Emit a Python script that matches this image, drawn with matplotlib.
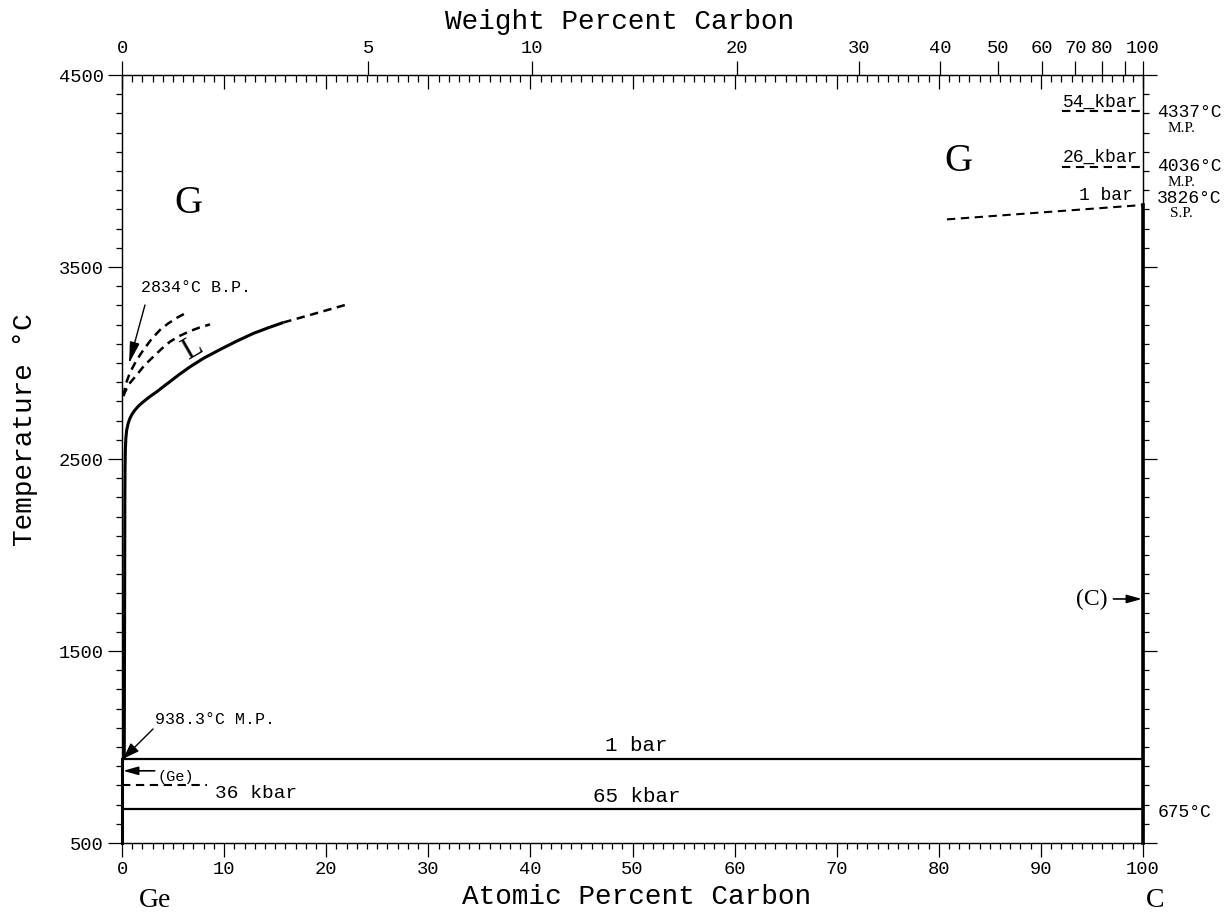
import matplotlib
matplotlib.use("Agg")
import matplotlib.pyplot as plt
import numpy as np

plt.rcParams["lines.scale_dashes"] = False
MONO = "Liberation Mono"
SERIF = "Liberation Serif"

# atomic masses used for the weight-percent axis
M_GE = 72.63
M_C = 12.011

# liquidus at 1 bar (atomic % C, degC)
liq_x = [0.22, 0.25, 0.28, 0.30, 0.33, 0.38, 0.46, 0.60, 0.78, 1.00, 1.27, 1.65, 2.09,
         2.70, 3.40, 4.00, 4.70, 5.60, 6.66, 8.00, 9.60, 11.20, 12.86, 14.30, 15.80]
liq_t = [938, 1600, 2300, 2460, 2550, 2610, 2651, 2685, 2712, 2735, 2755, 2778, 2798,
         2824, 2850, 2875, 2903, 2940, 2980, 3025, 3070, 3113, 3154, 3183, 3211]
liq_ext_x = [15.80, 18.74, 21.84]
liq_ext_t = [3211, 3255, 3302]

# dashed curves from the Ge boiling point
bp_up_x = [0.13, 0.40, 0.78, 1.40, 2.09, 2.90, 3.72, 4.50, 5.36, 6.49]
bp_up_t = [2828, 2895, 2950, 3012, 3068, 3125, 3172, 3205, 3235, 3267]
bp_lo_x = [0.13, 0.60, 1.44, 2.20, 3.07, 3.90, 4.70, 5.60, 6.66, 7.60, 8.62]
bp_lo_t = [2828, 2885, 2938, 2988, 3033, 3075, 3111, 3140, 3166, 3185, 3201]

# invariant / reference temperatures
t_ge_mp = 938.3
t_eut_65 = 675
t_36kbar = 800
x_36kbar_end = 8.3
t_54kbar = 4315
t_26kbar = 4022
x_c_hp_start = 92.1
sp_x = [80.8, 100]
sp_t = [3748, 3823]
t_c_arrow = 1771
t_ge_arrow = 876

wt_ticks = [0, 5, 10, 20, 30, 40, 50, 60, 70, 80, 90, 100]
wt_labels = ["0", "5", "10", "20", "30", "40", "50", "60", "70", "80", "", "100"]


def wt_to_at(w):
    w = np.asarray(w, dtype=float)
    nc = w / M_C
    ng = (100 - w) / M_GE
    return 100 * nc / (nc + ng)


fig = plt.figure(figsize=(12.24, 9.13), dpi=100)
ax = fig.add_axes([122 / 1224, 70 / 913, 1021 / 1224, 768 / 913])
ax.set_xlim(0, 100)
ax.set_ylim(500, 4500)

# phase boundaries
ax.plot(liq_x, liq_t, color="black", lw=2.2, solid_capstyle="butt", solid_joinstyle="round")
ax.plot(liq_ext_x, liq_ext_t, color="black", lw=1.8, dashes=(6, 4))
ax.plot(bp_up_x, bp_up_t, color="black", lw=1.8, dashes=(6, 4))
ax.plot(bp_lo_x, bp_lo_t, color="black", lw=1.8, dashes=(6, 4))
ax.plot([0, 100], [t_ge_mp, t_ge_mp], color="black", lw=1.6)
ax.plot([0, 100], [t_eut_65, t_eut_65], color="black", lw=1.6)
ax.plot([0, x_36kbar_end], [t_36kbar, t_36kbar], color="black", lw=1.5, dashes=(6, 4))
ax.plot([x_c_hp_start, 100], [t_54kbar, t_54kbar], color="black", lw=1.5, dashes=(6, 4))
ax.plot([x_c_hp_start, 100], [t_26kbar, t_26kbar], color="black", lw=1.5, dashes=(6, 4))
ax.plot(sp_x, sp_t, color="black", lw=1.5, dashes=(6, 4))
ax.plot([100, 100], [500, sp_t[-1]], color="black", lw=2.6, clip_on=False)
ax.plot([0, 0], [500, t_ge_mp], color="black", lw=2.2, clip_on=False)

# arrows
ax.annotate("", xy=(0.1, t_ge_mp), xytext=(3.04, 1094),
            arrowprops=dict(arrowstyle="-|>,head_length=1.0,head_width=0.35",
                            color="black", lw=1.0, shrinkA=0, shrinkB=0))
ax.annotate("", xy=(0.69, 2998), xytext=(2.25, 3302),
            arrowprops=dict(arrowstyle="-|>,head_length=1.3,head_width=0.3",
                            color="black", lw=1.0, shrinkA=0, shrinkB=0))
ax.annotate("", xy=(0.1, t_ge_arrow), xytext=(3.2, t_ge_arrow),
            arrowprops=dict(arrowstyle="-|>,head_length=0.9,head_width=0.25",
                            color="black", lw=1.2, shrinkA=0, shrinkB=0))
ax.annotate("", xy=(99.9, t_c_arrow), xytext=(97.1, t_c_arrow),
            arrowprops=dict(arrowstyle="-|>,head_length=0.9,head_width=0.25",
                            color="black", lw=1.2, shrinkA=0, shrinkB=0))

# labels inside the diagram
ax.text(6.46, 3833, "G", family=SERIF, fontsize=28, ha="center", va="center")
ax.text(81.9, 4047, "G", family=SERIF, fontsize=28, ha="center", va="center")
ax.text(6.86, 3075, "L", family=SERIF, fontsize=22, ha="center", va="center", rotation=30)
ax.text(1.86, 3391, "2834°C B.P.", family=MONO, fontsize=12, ha="left", va="center")
ax.text(3.23, 1141, "938.3°C M.P.", family=MONO, fontsize=12, ha="left", va="center")
ax.text(3.5, 844, "(Ge)", family=MONO, fontsize=11, ha="left", va="center")
ax.text(9.1, 760, "36 kbar", family=MONO, fontsize=14, ha="left", va="center")
ax.text(50.4, 1010, "1 bar", family=MONO, fontsize=15, ha="center", va="center")
ax.text(50.4, 740, "65 kbar", family=MONO, fontsize=15, ha="center", va="center")
ax.text(95.0, t_c_arrow, "(C)", family=SERIF, fontsize=17, ha="center", va="center")
ax.text(99.5, 4359, "54_kbar", family=MONO, fontsize=13, ha="right", va="center")
ax.text(99.5, 4073, "26_kbar", family=MONO, fontsize=13, ha="right", va="center")
ax.text(99.0, 3875, "1 bar", family=MONO, fontsize=13, ha="right", va="center")
ax.text(101.4, 4305, "4337°C", family=MONO, fontsize=13, ha="left", va="center", clip_on=False)
ax.text(103.8, 4222, "M.P.", family=SERIF, fontsize=11, ha="center", va="center", clip_on=False)
ax.text(101.4, 4022, "4036°C", family=MONO, fontsize=13, ha="left", va="center", clip_on=False)
ax.text(103.8, 3942, "M.P.", family=SERIF, fontsize=11, ha="center", va="center", clip_on=False)
ax.text(101.4, 3858, "3826°C", family=MONO, fontsize=13, ha="left", va="center", clip_on=False)
ax.text(103.8, 3780, "S.P.", family=SERIF, fontsize=11, ha="center", va="center", clip_on=False)
ax.text(101.4, 661, "675°C", family=MONO, fontsize=13, ha="left", va="center", clip_on=False)

# bottom / left / right ticks
ax.set_xticks(np.arange(0, 101, 10))
ax.set_xticks(np.arange(0, 101, 1), minor=True)
ax.set_yticks(np.arange(500, 4501, 1000))
ax.set_yticks(np.arange(500, 4501, 100), minor=True)
ax.tick_params(which="major", direction="out", length=10, width=0.9, labelsize=13.5, pad=3)
ax.tick_params(which="minor", direction="out", length=4, width=0.9)
ax.tick_params(axis="y", which="both", right=True, labelright=False)
ax.tick_params(axis="x", which="both", top=False)
for lab in ax.get_xticklabels() + ax.get_yticklabels():
    lab.set_family(MONO)
for sp in ax.spines.values():
    sp.set_linewidth(0.9)

# top: atomic-percent ticks pointing inward
ax_in = ax.twiny()
ax_in.set_xlim(0, 100)
ax_in.set_xticks(np.arange(0, 101, 10))
ax_in.set_xticks(np.arange(0, 101, 1), minor=True)
ax_in.tick_params(which="major", direction="in", length=10, width=0.9, labeltop=False)
ax_in.tick_params(which="minor", direction="in", length=5, width=0.9)

# top: weight-percent axis
ax_wt = ax.twiny()
ax_wt.set_xlim(0, 100)
ax_wt.set_xticks(wt_to_at(wt_ticks))
ax_wt.set_xticklabels(wt_labels, family=MONO)
ax_wt.xaxis.set_minor_locator(matplotlib.ticker.NullLocator())
ax_wt.tick_params(direction="out", length=10, width=0.9, labelsize=13.5, pad=3)

# axis titles and component names
fig.text(620 / 1224, 1 - 22 / 913, "Weight Percent Carbon", family=MONO, fontsize=20,
         ha="center", va="center")
fig.text(637 / 1224, 1 - 897 / 913, "Atomic Percent Carbon", family=MONO, fontsize=20,
         ha="center", va="center")
fig.text(25 / 1224, 1 - 430 / 913, "Temperature °C", family=MONO, fontsize=20,
         ha="center", va="center", rotation=90)
fig.text(155 / 1224, 1 - 900 / 913, "Ge", family=SERIF, fontsize=20, ha="center", va="center")
fig.text(1155 / 1224, 1 - 900 / 913, "C", family=SERIF, fontsize=20, ha="center", va="center")

fig.savefig("out.png", dpi=100)
